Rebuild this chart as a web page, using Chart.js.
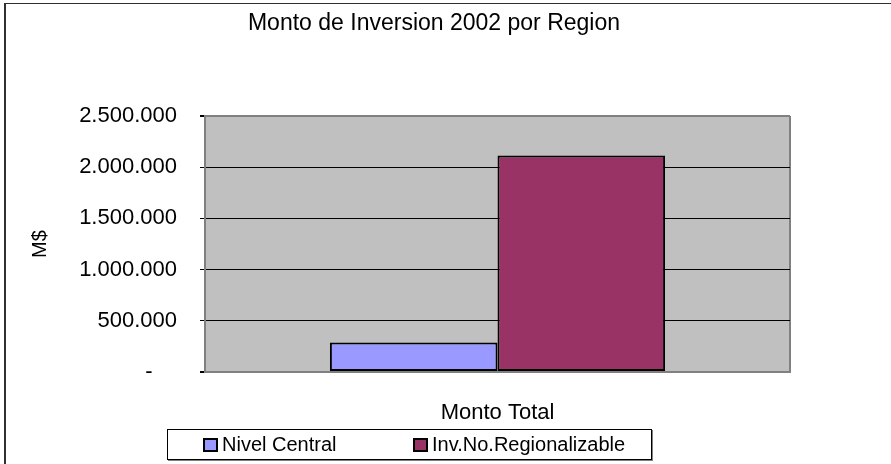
<!DOCTYPE html>
<html>
<head>
<meta charset="utf-8">
<script src="https://cdn.jsdelivr.net/npm/chart.js@4.4.0/dist/chart.umd.min.js"></script>
<style>
  html, body { margin: 0; padding: 0; background: #fff; }
  #wrap { position: relative; width: 891px; height: 464px; overflow: hidden; }
  #frame { position: absolute; left: 4px; top: 3px; width: 1000px; height: 600px;
           border-left: 2px solid #303030; border-top: 1px solid #303030; pointer-events: none; }
  #legend { position: absolute; left: 167px; top: 429px; width: 485px; height: 31px;
            box-sizing: border-box; border: 1px solid #000; box-shadow: 1px 1px 0 #808080;
            background: #fff; display: flex; align-items: center; padding-left: 35px;
            font: 20px "Liberation Sans", Arial, sans-serif; color: #000; }
  .item { display: flex; align-items: center; white-space: nowrap; }
  .item:first-child { width: 210px; }
  .sw { width: 11px; height: 10px; border: 2px solid #000; margin-right: 4px; }
</style>
</head>
<body>
<div id="wrap">
  <canvas id="chart" width="891" height="464"></canvas>
  <div id="frame"></div>
  <div id="legend"></div>
</div>
<script>
const FONT = '"Liberation Sans", Arial, sans-serif';

// datos
const categories = ['Monto Total'];
const seriesNames = ['Nivel Central', 'Inv.No.Regionalizable'];
const seriesColors = ['#9999FF', '#993366'];
const nivelCentral = [287000];
const invNoRegionalizable = [2114000];
const yMax = 2500000;
const yStep = 500000;

// 2500000 -> "2.500.000", 0 -> "-"
function fmtMiles(v) {
  if (v === 0) return '-    ';
  return String(v).replace(/\B(?=(\d{3})+(?!\d))/g, '.');
}

const plotBg = {
  id: 'plotBg',
  beforeDraw(chart) {
    const { ctx, chartArea: a } = chart;
    ctx.save();
    ctx.fillStyle = '#C0C0C0';
    ctx.fillRect(a.left, a.top, a.right - a.left, a.bottom - a.top);
    ctx.restore();
  }
};

const edge = c => c.tick && (c.tick.value === 0 || c.tick.value === yMax);

// el titulo queda centrado entre padLeft y (891 - padRight)
// (padLeft no puede pasar del borde izq. de las etiquetas del eje y, se recortan)
const padLeft = 78, padRight = 101;

const chart = new Chart(document.getElementById('chart'), {
  type: 'bar',
  data: {
    labels: categories,
    datasets: [nivelCentral, invNoRegionalizable].map((vals, i) => ({
      label: seriesNames[i],
      data: vals,
      backgroundColor: seriesColors[i],
      borderColor: '#000',
      borderWidth: 2,
      borderSkipped: false,
      barPercentage: 1,
      categoryPercentage: 0.573
    }))
  },
  options: {
    responsive: false,
    animation: false,
    layout: { padding: { left: padLeft, right: padRight, top: 0, bottom: 0 } },
    plugins: {
      legend: { display: false },
      tooltip: { enabled: false },
      title: {
        display: true,
        text: 'Monto de Inversion 2002 por Region',
        color: '#000',
        font: { family: FONT, size: 23, weight: 'normal' },
        padding: { top: 10, bottom: 78.4 }
      }
    },
    scales: {
      x: {
        grid: { offset: true, color: '#808080', lineWidth: 2, drawTicks: false },
        border: { color: '#808080', width: 2 },
        ticks: { color: '#000', font: { family: FONT, size: 22 }, padding: 28 },
        afterFit: s => { s.height = 92; }
      },
      y: {
        min: 0,
        max: yMax,
        ticks: { stepSize: yStep, color: '#000', font: { family: FONT, size: 22 }, padding: 23, callback: fmtMiles },
        grid: {
          color: c => edge(c) ? '#808080' : '#000',
          lineWidth: c => edge(c) ? 2 : 1,
          tickColor: '#000',
          tickLength: 5
        },
        border: { color: '#808080', width: 2 },
        title: {
          display: true,
          text: 'M$',
          color: '#000',
          font: { family: FONT, size: 20 },
          padding: { top: 40 - padLeft - 12, bottom: 0 }
        },
        afterFit: s => { s.width = 205 - padLeft; }
      }
    }
  },
  plugins: [plotBg]
});

// leyenda con recuadro como en Excel
const legendEl = document.getElementById('legend');
chart.data.datasets.forEach(ds => {
  const item = document.createElement('div');
  item.className = 'item';
  const sw = document.createElement('span');
  sw.className = 'sw';
  sw.style.background = ds.backgroundColor;
  item.appendChild(sw);
  item.appendChild(document.createTextNode(ds.label));
  legendEl.appendChild(item);
});
</script>
</body>
</html>
